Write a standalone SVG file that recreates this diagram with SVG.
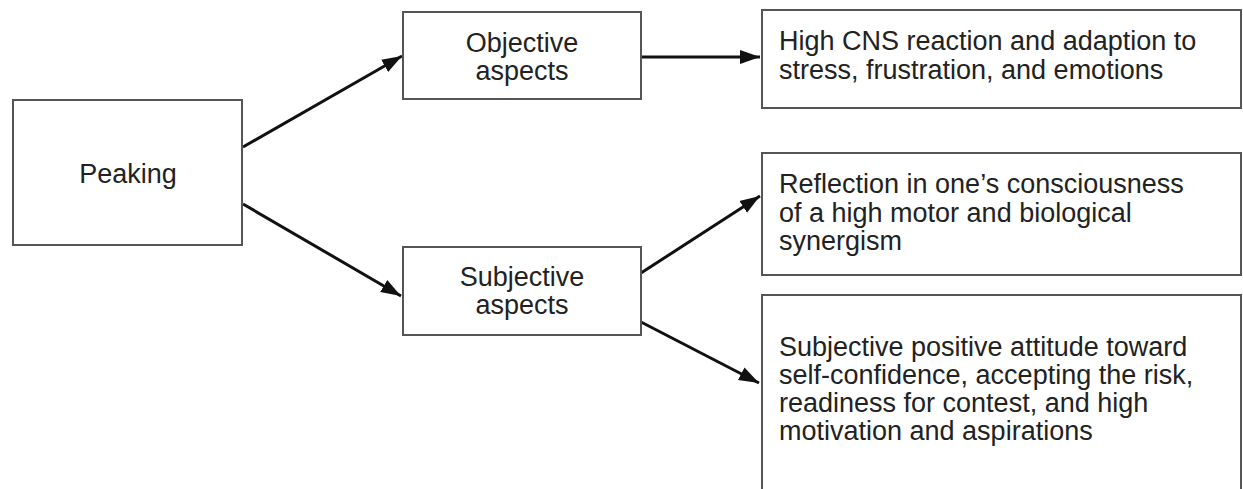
<svg xmlns="http://www.w3.org/2000/svg" width="1243" height="489" viewBox="0 0 1243 489">
<style>
.box{fill:#fff;stroke:#555;stroke-width:2}
.t{font-family:"Liberation Sans",Arial,sans-serif;font-size:27px;fill:#222}
.c{text-anchor:middle}
.conn{stroke:#111;stroke-width:3;fill:none}
</style>
<defs>
<marker id="ah" markerUnits="userSpaceOnUse" markerWidth="22" markerHeight="16" refX="20" refY="8" orient="auto">
<path d="M0,1 L20,8 L0,15 Z" fill="#111"/>
</marker>
</defs>
<rect width="1243" height="489" fill="#fff"/>
<g id="connectors">
<line class="conn" x1="243" y1="147" x2="402" y2="56" marker-end="url(#ah)"/>
<line class="conn" x1="243" y1="204" x2="401" y2="296" marker-end="url(#ah)"/>
<line class="conn" x1="641" y1="57" x2="760" y2="57" marker-end="url(#ah)"/>
<line class="conn" x1="641" y1="273" x2="760" y2="196" marker-end="url(#ah)"/>
<line class="conn" x1="641" y1="322" x2="759" y2="383" marker-end="url(#ah)"/>
</g>
<g id="peaking">
<rect class="box" x="13" y="100" width="229" height="145"/>
<text class="t c" x="128" y="183">Peaking</text>
</g>
<g id="objective">
<rect class="box" x="403" y="12" width="238" height="87"/>
<text class="t c" x="522" y="52">Objective</text>
<text class="t c" x="522" y="80">aspects</text>
</g>
<g id="subjective">
<rect class="box" x="403" y="247" width="238" height="88"/>
<text class="t c" x="522" y="286">Subjective</text>
<text class="t c" x="522" y="314">aspects</text>
</g>
<g id="cns">
<rect class="box" x="762" y="10" width="479" height="98"/>
<text class="t" x="779" y="50">High CNS reaction and adaption to</text>
<text class="t" x="779" y="79">stress, frustration, and emotions</text>
</g>
<g id="reflection">
<rect class="box" x="762" y="153" width="479" height="122"/>
<text class="t" x="779" y="193">Reflection in one’s consciousness</text>
<text class="t" x="779" y="222">of a high motor and biological</text>
<text class="t" x="779" y="250">synergism</text>
</g>
<g id="attitude">
<rect class="box" x="762" y="295" width="479" height="210"/>
<text class="t" x="779" y="356">Subjective positive attitude toward</text>
<text class="t" x="779" y="384">self-confidence, accepting the risk,</text>
<text class="t" x="779" y="412">readiness for contest, and high</text>
<text class="t" x="779" y="440">motivation and aspirations</text>
</g>
</svg>
